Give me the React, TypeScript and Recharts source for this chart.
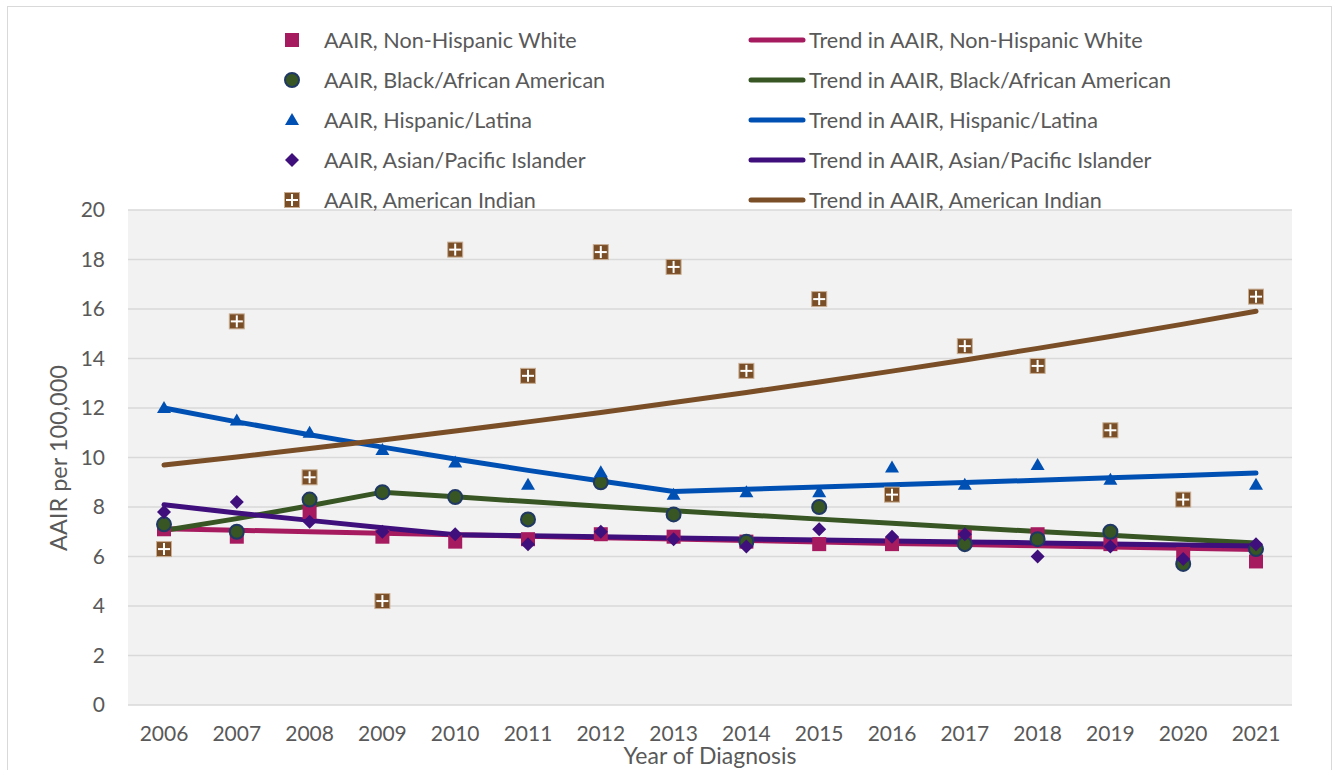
import React from "react";
import { ComposedChart, Line, Scatter, XAxis, YAxis, CartesianGrid, Legend, Label } from "recharts";

const years = ["2006", "2007", "2008", "2009", "2010", "2011", "2012", "2013", "2014", "2015", "2016", "2017", "2018", "2019", "2020", "2021"];
const yTicks = [0, 2, 4, 6, 8, 10, 12, 14, 16, 18, 20];

// observed AAIR per 100,000
const white = [7.1, 6.8, 7.8, 6.8, 6.6, 6.7, 6.9, 6.8, 6.6, 6.5, 6.5, 6.8, 6.9, 6.5, 6.1, 5.8];
const black = [7.3, 7.0, 8.3, 8.6, 8.4, 7.5, 9.0, 7.7, 6.6, 8.0, null, 6.5, 6.7, 7.0, 5.7, 6.3];
const hispanic = [12.0, 11.5, 11.0, 10.3, 9.8, 8.9, 9.4, 8.5, 8.6, 8.6, 9.6, 8.9, 9.7, 9.1, 8.2, 8.9];
const asian = [7.8, 8.2, 7.4, 7.0, 6.9, 6.5, 7.0, 6.7, 6.4, 7.1, 6.8, 6.9, 6.0, 6.4, 5.9, 6.5];
const amIndian = [6.3, 15.5, 9.2, 4.2, 18.4, 13.3, 18.3, 17.7, 13.5, 16.4, 8.5, 14.5, 13.7, 11.1, 8.3, 16.5];

// fitted trends
const whiteTrend = [7.12, 7.06, 7.0, 6.94, 6.88, 6.82, 6.76, 6.71, 6.65, 6.59, 6.53, 6.48, 6.43, 6.38, 6.33, 6.28];
const blackTrend = [7.05, 7.53, 8.05, 8.6, 8.41, 8.22, 8.03, 7.85, 7.68, 7.51, 7.34, 7.17, 7.01, 6.86, 6.7, 6.55];
const hispanicTrend = [12.0, 11.44, 10.92, 10.42, 9.94, 9.48, 9.05, 8.63, 8.72, 8.81, 8.9, 8.99, 9.08, 9.18, 9.27, 9.37];
const asianTrend = [8.09, 7.76, 7.46, 7.16, 6.88, 6.84, 6.8, 6.75, 6.71, 6.67, 6.63, 6.59, 6.55, 6.51, 6.46, 6.42];
const amIndianTrend = [9.7, 10.02, 10.36, 10.71, 11.07, 11.44, 11.82, 12.22, 12.63, 13.05, 13.49, 13.94, 14.41, 14.89, 15.39, 15.91];

const data = years.map((year, i) => ({
  year,
  white: white[i],
  black: black[i],
  hispanic: hispanic[i],
  asian: asian[i],
  amIndian: amIndian[i],
  whiteTrend: whiteTrend[i],
  blackTrend: blackTrend[i],
  hispanicTrend: hispanicTrend[i],
  asianTrend: asianTrend[i],
  amIndianTrend: amIndianTrend[i],
}));

const C = {
  white: "#A61B5F",
  black: "#375623",
  blackEdge: "#203864",
  hispanic: "#0050B4",
  asian: "#3F0F7C",
  amIndian: "#7A4F27",
};

const FONT = "Lato, 'Open Sans', sans-serif";
const TEXT = "#595959";

const squareMark = (cx: number, cy: number) => <rect x={cx - 7} y={cy - 7} width={14} height={14} fill={C.white} />;
const circleMark = (cx: number, cy: number) => <circle cx={cx} cy={cy} r={7} fill={C.black} stroke={C.blackEdge} strokeWidth={2} />;
const triangleMark = (cx: number, cy: number) => (
  <polygon points={`${cx},${cy - 7} ${cx + 7},${cy + 5} ${cx - 7},${cy + 5}`} fill={C.hispanic} />
);
const diamondMark = (cx: number, cy: number) => (
  <polygon points={`${cx},${cy - 7} ${cx + 7},${cy} ${cx},${cy + 7} ${cx - 7},${cy}`} fill={C.asian} />
);
const plusMark = (cx: number, cy: number) => (
  <g>
    <rect x={cx - 7.5} y={cy - 7.5} width={15} height={15} fill={C.amIndian} stroke="#C9AE94" strokeWidth={1} />
    <line x1={cx} y1={cy - 6} x2={cx} y2={cy + 6} stroke="#fff" strokeWidth={2} />
    <line x1={cx - 6} y1={cy} x2={cx + 6} y2={cy} stroke="#fff" strokeWidth={2} />
  </g>
);

const shapeOf = (fn: (cx: number, cy: number) => React.ReactElement) => (props: any) =>
  props.cx == null || props.cy == null || props.payload == null ? <g /> : fn(props.cx, props.cy);

const markerRows = [
  { label: "AAIR, Non-Hispanic White", mark: squareMark },
  { label: "AAIR, Black/African American", mark: circleMark },
  { label: "AAIR, Hispanic/Latina", mark: triangleMark },
  { label: "AAIR, Asian/Pacific Islander", mark: diamondMark },
  { label: "AAIR, American Indian", mark: plusMark },
];
const trendRows = [
  { label: "Trend in AAIR, Non-Hispanic White", color: C.white },
  { label: "Trend in AAIR, Black/African American", color: C.black },
  { label: "Trend in AAIR, Hispanic/Latina", color: C.hispanic },
  { label: "Trend in AAIR, Asian/Pacific Islander", color: C.asian },
  { label: "Trend in AAIR, American Indian", color: C.amIndian },
];

function LegendBlock() {
  return (
    <div style={{ position: "relative", width: 1338, height: 210 }}>
      <svg width={1338} height={210} style={{ position: "absolute", left: 0, top: 0, overflow: "visible" }}>
        {markerRows.map((r, i) => (
          <g key={r.label}>
            {r.mark(292, 40 + i * 40)}
            <text x={324} y={40 + i * 40} dy="0.35em" fill={TEXT} fontSize={21.6} fontFamily={FONT}>
              {r.label}
            </text>
          </g>
        ))}
        {trendRows.map((r, i) => (
          <g key={r.label}>
            <line x1={751} y1={40 + i * 40} x2={803} y2={40 + i * 40} stroke={r.color} strokeWidth={5} strokeLinecap="round" />
            <text x={809} y={40 + i * 40} dy="0.35em" fill={TEXT} fontSize={21.6} fontFamily={FONT}>
              {r.label}
            </text>
          </g>
        ))}
      </svg>
    </div>
  );
}

export default function App() {
  return (
    <div style={{ position: "relative", width: 1338, height: 770, overflow: "hidden", background: "#fff", fontFamily: FONT }}>
      <style>{`body{margin:0}`}</style>
      <div style={{ position: "absolute", left: 7, top: 6, width: 1323, height: 800, border: "1.5px solid #D9D9D9" }} />
      <ComposedChart width={1338} height={770} data={data} margin={{ top: 0, right: 46, bottom: 0, left: 68 }}>
        <CartesianGrid vertical={false} stroke="#D9D9D9" strokeWidth={1.5} fill="#F2F2F2" />
        <XAxis
          dataKey="year"
          height={65}
          padding={{ left: 36, right: 36 }}
          axisLine={false}
          tickLine={false}
          tickMargin={15}
          interval={0}
          tick={{ fill: TEXT, fontSize: 21, fontFamily: FONT }}
        >
          <Label value="Year of Diagnosis" position="insideBottom" offset={6} fill={TEXT} fontSize={23} fontFamily={FONT} />
        </XAxis>
        <YAxis
          width={60}
          domain={[0, 20]}
          ticks={yTicks}
          interval={0}
          axisLine={false}
          tickLine={false}
          tickMargin={17}
          tick={{ fill: TEXT, fontSize: 21, fontFamily: FONT }}
        >
          <Label
            content={() => (
              <text x={58} y={458} transform="rotate(-90 58 458)" textAnchor="middle" dominantBaseline="central" fill={TEXT} fontSize={23.5} fontFamily={FONT}>
                AAIR per 100,000
              </text>
            )}
          />
        </YAxis>
        <Legend verticalAlign="top" align="left" wrapperStyle={{ left: 0, top: 0, width: 1338 }} content={() => <LegendBlock />} />
        <Scatter dataKey="white" shape={shapeOf(squareMark)} isAnimationActive={false} legendType="none" />
        <Line dataKey="whiteTrend" stroke={C.white} strokeWidth={5} strokeLinecap="round" dot={false} activeDot={false} isAnimationActive={false} />
        <Line dataKey="blackTrend" stroke={C.black} strokeWidth={5} strokeLinecap="round" dot={false} activeDot={false} isAnimationActive={false} />
        <Line dataKey="hispanicTrend" stroke={C.hispanic} strokeWidth={5} strokeLinecap="round" dot={false} activeDot={false} isAnimationActive={false} />
        <Line dataKey="asianTrend" stroke={C.asian} strokeWidth={5} strokeLinecap="round" dot={false} activeDot={false} isAnimationActive={false} />
        <Line dataKey="amIndianTrend" stroke={C.amIndian} strokeWidth={5} strokeLinecap="round" dot={false} activeDot={false} isAnimationActive={false} />
        <Scatter dataKey="black" shape={shapeOf(circleMark)} isAnimationActive={false} />
        <Scatter dataKey="hispanic" shape={shapeOf(triangleMark)} isAnimationActive={false} />
        <Scatter dataKey="asian" shape={shapeOf(diamondMark)} isAnimationActive={false} />
        <Scatter dataKey="amIndian" shape={shapeOf(plusMark)} isAnimationActive={false} />
      </ComposedChart>
    </div>
  );
}
